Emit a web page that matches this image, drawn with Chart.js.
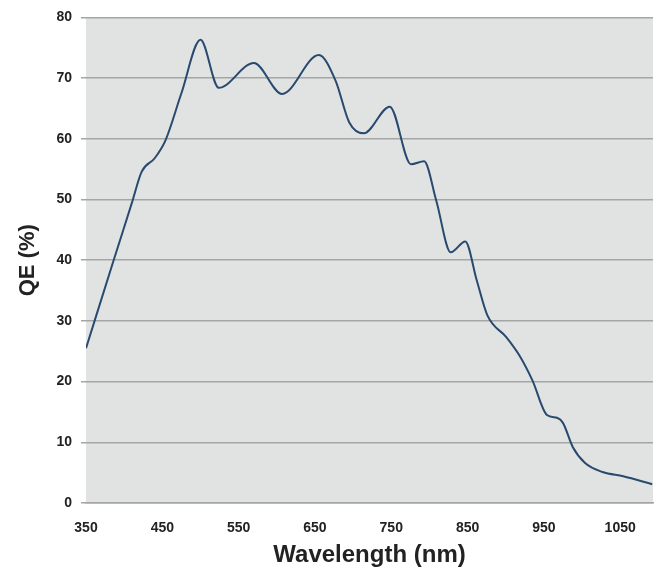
<!DOCTYPE html>
<html>
<head>
<meta charset="utf-8">
<title>QE curve</title>
<script src="https://cdn.jsdelivr.net/npm/chart.js@4"></script>
<style>
  html, body { margin: 0; padding: 0; background: #fff; }
  #wrap { width: 661px; height: 570px; }
</style>
</head>
<body>
<div id="wrap"><canvas id="qeChart" width="661" height="570"></canvas></div>
<script>
// wavelength (nm) and quantum efficiency (%)
const wavelengths = [350, 385, 410, 423, 440, 454, 475, 500, 524, 570, 607, 655, 677, 695, 714, 748, 776, 793, 809, 828, 847, 862, 876, 901, 918, 935, 954, 968, 975, 988, 1004, 1027, 1054, 1092];
const qeValues = [25.5, 39.5, 49.4, 54.6, 56.8, 59.7, 67.5, 76.3, 68.4, 72.5, 67.4, 73.8, 69.6, 62.7, 60.9, 65.3, 55.8, 56.3, 49.8, 41.3, 43.1, 36.7, 30.9, 27.3, 24.3, 20.2, 14.5, 14.0, 13.2, 9.2, 6.6, 5.1, 4.4, 3.1];
const xTicks = [350, 450, 550, 650, 750, 850, 950, 1050];
const yTicks = [0, 10, 20, 30, 40, 50, 60, 70, 80];

const points = wavelengths.map((w, i) => ({ x: w, y: qeValues[i] }));

// grey plot background
const plotBackground = {
  id: 'plotBackground',
  beforeDraw(chart) {
    const { ctx, chartArea } = chart;
    ctx.save();
    ctx.fillStyle = '#e1e2e2';
    ctx.fillRect(chartArea.left, chartArea.top, chartArea.right - chartArea.left, chartArea.bottom - chartArea.top);
    ctx.restore();
  }
};

const tickFont = { family: 'Liberation Sans, Arial, sans-serif', size: 14, weight: 'bold' };

const ctx = document.getElementById('qeChart').getContext('2d');
const qeChart = new Chart(ctx, {
  type: 'line',
  data: {
    datasets: [{
      data: points,
      borderColor: '#284a6e',
      borderWidth: 2,
      pointRadius: 0,
      fill: false,
      cubicInterpolationMode: 'monotone'
    }]
  },
  options: {
    responsive: false,
    animation: false,
    layout: { padding: { top: 16, right: 8, left: 0, bottom: 0 } },
    plugins: { legend: { display: false }, tooltip: { enabled: false } },
    scales: {
      x: {
        type: 'linear',
        min: 350,
        max: 1093,
        afterBuildTicks: (scale) => { scale.ticks = xTicks.map(v => ({ value: v })); },
        afterFit: (scale) => { scale.height = 67; },
        grid: { display: false },
        border: { display: true, color: '#a5a5a5', width: 1.5 },
        ticks: { color: '#222', font: tickFont, padding: 9, maxRotation: 0, autoSkip: false, callback: (v) => String(v) },
        title: {
          display: true,
          text: 'Wavelength (nm)',
          color: '#222',
          font: { family: 'Liberation Sans, Arial, sans-serif', size: 24, weight: 'bold' },
          padding: { top: 0, bottom: 0 }
        }
      },
      y: {
        min: 0,
        max: 80,
        afterBuildTicks: (scale) => { scale.ticks = yTicks.map(v => ({ value: v })); },
        afterFit: (scale) => { scale.width = 86; },
        grid: { color: '#a5a5a5', lineWidth: 1.5, tickLength: 5, drawTicks: true },
        border: { display: false },
        ticks: { color: '#222', font: tickFont, padding: 9 },
        title: {
          display: true,
          text: 'QE (%)',
          color: '#222',
          font: { family: 'Liberation Sans, Arial, sans-serif', size: 22, weight: 'bold' },
          padding: { top: 15, bottom: 0 }
        }
      }
    }
  },
  plugins: [plotBackground]
});
</script>
</body>
</html>
